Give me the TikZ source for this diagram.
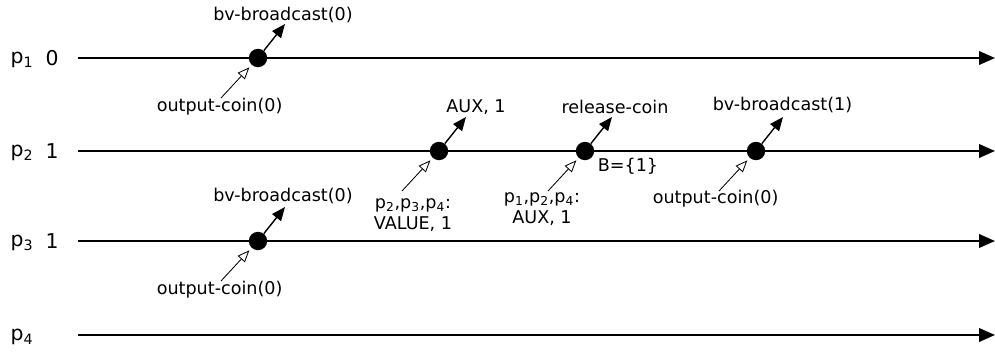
\documentclass[tikz,border=0pt]{standalone}
\usepackage{fontspec}
\setmainfont{DejaVu Sans}
\usetikzlibrary{arrows.meta}

\tikzset{
  procline/.style={line width=1.4pt, -{Triangle[length=0.4cm, width=0.34cm]}},
  event/.style={circle, fill=black, inner sep=0pt, minimum size=0.46cm},
  sendarrow/.style={line width=1pt, -{Triangle[length=0.34cm, width=0.28cm]}},
  recvarrow/.style={line width=0.6pt, -{Triangle[open, length=0.3cm, width=0.24cm]}, shorten >=0.08cm},
  lbl/.style={font=\fontsize{12.5}{15}\selectfont, inner sep=1pt, align=center},
  pname/.style={font=\fontsize{14.5}{17}\selectfont, inner sep=1pt}
}

\begin{document}
\begin{tikzpicture}
        \useasboundingbox (0,0) rectangle (24.875,8.85);

        % processes
        \node[pname] (p1) at (0.55,7.35) {p\textsubscript{1}};
        \node[pname] (p2) at (0.55,5.025) {p\textsubscript{2}};
        \node[pname] (p3) at (0.55,2.775) {p\textsubscript{3}};
        \node[pname] (p4) at (0.55,0.425) {p\textsubscript{4}};
        \node[pname] (v1) at (1.3,7.4) {0};
        \node[pname] (v2) at (1.3,5.075) {1};
        \node[pname] (v3) at (1.3,2.825) {1};

        % time lines
        \coordinate (s1) at (1.95,7.4);     \coordinate (t1) at (24.875,7.4);
        \coordinate (s2) at (1.95,5.075);   \coordinate (t2) at (24.875,5.075);
        \coordinate (s3) at (1.95,2.825);   \coordinate (t3) at (24.875,2.825);
        \coordinate (s4) at (1.95,0.475);   \coordinate (t4) at (24.875,0.475);
        \draw[procline] (s1) -- (t1);
        \draw[procline] (s2) -- (t2);
        \draw[procline] (s3) -- (t3);
        \draw[procline] (s4) -- (t4);

        % events
        \node[event] (e1) at (6.45,7.4) {};
        \node[event] (e2) at (10.975,5.075) {};
        \node[event] (e3) at (14.625,5.075) {};
        \node[event] (e4) at (18.9,5.075) {};
        \node[event] (e5) at (6.45,2.825) {};

        % sent
        \coordinate (o1) at (7.125,8.25);
        \coordinate (o2) at (11.65,5.925);
        \coordinate (o3) at (15.3,5.925);
        \coordinate (o4) at (19.575,5.925);
        \coordinate (o5) at (7.125,3.675);
        \node[lbl] (bb1) at (7.075,8.475) {bv-broadcast(0)};
        \node[lbl] (aux) at (11.9,6.175) {AUX, 1};
        \node[lbl] (rel) at (15.375,6.175) {release-coin};
        \node[lbl] (bb2) at (19.5625,6.225) {bv-broadcast(1)};
        \node[lbl] (bb3) at (7.075,3.95) {bv-broadcast(0)};
        \draw[sendarrow] (e1) -- (o1);
        \draw[sendarrow] (e2) -- (o2);
        \draw[sendarrow] (e3) -- (o3);
        \draw[sendarrow] (e4) -- (o4);
        \draw[sendarrow] (e5) -- (o5);

        % received
        \coordinate (i1) at (5.525,6.4);
        \coordinate (i2) at (10.05,4.075);
        \coordinate (i3) at (13.7,4.075);
        \coordinate (i4) at (17.975,4.075);
        \coordinate (i5) at (5.525,1.825);
        \node[lbl] (oc1) at (5.49,6.175) {output-coin(0)};
        \node[lbl] (val) at (10.325,3.475) {p\textsubscript{2},p\textsubscript{3},p\textsubscript{4}:\\VALUE, 1};
        \node[lbl] (auxin) at (13.55,3.625) {p\textsubscript{1},p\textsubscript{2},p\textsubscript{4}:\\AUX, 1};
        \node[lbl] (oc2) at (17.89,3.875) {output-coin(0)};
        \node[lbl] (oc3) at (5.49,1.6) {output-coin(0)};
        \draw[recvarrow] (i1) -- (e1);
        \draw[recvarrow] (i2) -- (e2);
        \draw[recvarrow] (i3) -- (e3);
        \draw[recvarrow] (i4) -- (e4);
        \draw[recvarrow] (i5) -- (e5);

        % bin values
        \node[lbl] (bin) at (15.7,4.7) {B=\{1\}};

    \end{tikzpicture}
\end{document}
